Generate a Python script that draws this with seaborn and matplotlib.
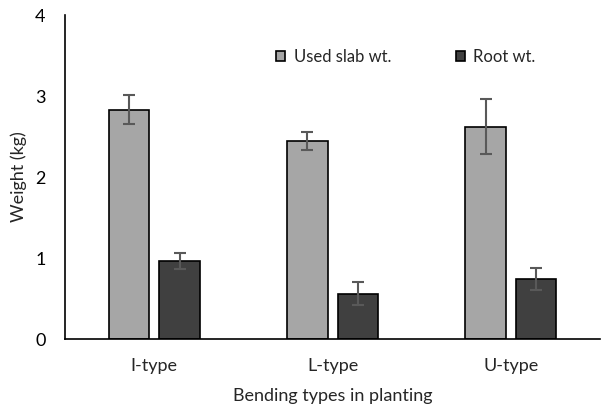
import pandas as pd
import seaborn as sns
import matplotlib.pyplot as plt

types = ["I-type", "L-type", "U-type"]
series = ["Used slab wt.", "Root wt."]
used_slab = [2.83, 2.44, 2.62]
used_slab_err = [0.18, 0.11, 0.34]
root = [0.96, 0.56, 0.74]
root_err = [0.10, 0.14, 0.14]

df = pd.DataFrame({
    "type": types * 2,
    "series": [series[0]] * 3 + [series[1]] * 3,
    "weight": used_slab + root,
})
errs = used_slab_err + root_err

sns.set_style("white")
plt.rcParams["font.family"] = ["Lato", "DejaVu Sans"]
fs = 13

fig = plt.figure(figsize=(6.03, 4.07), dpi=100)
ax = fig.add_axes([0.108, 0.167, 0.887, 0.796])

sns.barplot(data=df, x="type", y="weight", hue="series", order=types, hue_order=series,
            palette=["#a6a6a6", "#404040"], width=0.567, gap=0.196, errorbar=None,
            edgecolor="black", linewidth=1.2, ax=ax)

# error bars at the centre of each bar
bars = [p for p in ax.patches if p.get_height() > 0][:6]
for p, e in zip(bars, errs):
    ax.errorbar(p.get_x() + p.get_width() / 2, p.get_height(), yerr=e,
                fmt="none", ecolor="#595959", elinewidth=1.5, capsize=4, capthick=1.5)

ax.set_ylim(0, 4)
ax.set_xlim(-0.5, 2.5)
ax.set_yticks([0, 1, 2, 3, 4])
ax.tick_params(axis="y", direction="in", length=6, width=1, labelsize=fs, pad=14, colors="black")
ax.tick_params(axis="x", length=0, labelsize=fs, pad=14)
ax.set_xlabel("Bending types in planting", fontsize=fs, labelpad=10)
ax.set_ylabel("Weight (kg)", fontsize=fs, labelpad=6)
sns.despine(ax=ax)
for s in ["left", "bottom"]:
    ax.spines[s].set_color("black")
    ax.spines[s].set_linewidth(1.2)

leg = ax.legend(loc="center left", bbox_to_anchor=(276 / 603, 1 - 57 / 407),
                bbox_transform=fig.transFigure, borderaxespad=0, borderpad=0,
                ncol=2, frameon=False, fontsize=12, handlelength=0.55, handleheight=0.55,
                handletextpad=0.5, columnspacing=3.9)

plt.savefig("out.png", dpi=100)
